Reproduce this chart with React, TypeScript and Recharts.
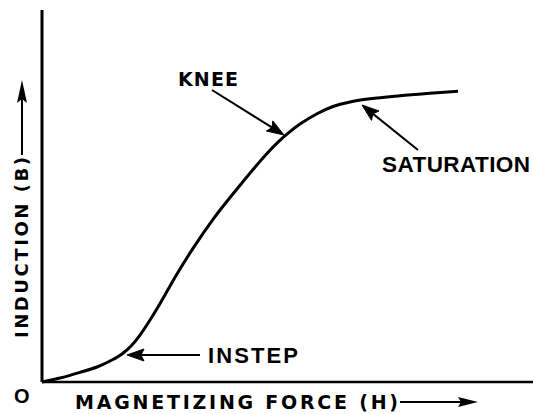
import React from 'react';
import { LineChart, Line, XAxis, YAxis, ReferenceLine, ReferenceDot } from 'recharts';

// Magnetizing force H (relative units) and induction B (relative units)
const hValues = [0, 3.67, 7.74, 11.2, 13.85, 16.29, 18.33, 19.96, 22.0, 23.63, 27.49, 30.75, 34.83, 39.71, 42.77, 45.82, 48.07, 50.51, 52.55, 56.01, 59.27, 62.73, 66.8, 72.91, 79.02, 84.73];
const bValues = [0, 1.08, 2.6, 4.03, 5.65, 7.53, 9.95, 12.63, 16.67, 20.16, 29.03, 35.91, 43.71, 51.88, 56.8, 61.45, 64.49, 67.31, 69.33, 72.12, 74.06, 75.27, 76.13, 76.96, 77.61, 78.15];

// Annotations
const annotationLabels = ['KNEE', 'SATURATION', 'INSTEP'];
const annotationText = [
  [27.7, 79.57],
  [69.25, 56.45],
  [33.81, 5.11],
];
const annotationArrows = [
  [34.62, 78.49, 49.29, 66.4],
  [76.58, 62.37, 65.17, 74.46],
  [32.18, 7.26, 17.31, 7.26],
];

const xTitle = 'MAGNETIZING FORCE (H)';
const yTitle = 'INDUCTION (B)';
const originLabel = 'O';

const data = hValues.map((h, i) => ({ h, b: bValues[i] }));

const DEJAVU = '"DejaVu Sans", sans-serif';
const LIB = '"Liberation Sans", Arial, sans-serif';
const labelStyle = [
  { font: DEJAVU, size: 19, width: 60 },
  { font: LIB, size: 22.5, width: 148 },
  { font: LIB, size: 22, width: 90 },
];

const arrowShape = (props: any) => {
  const { x1, y1, x2, y2 } = props;
  const dx = x2 - x1;
  const dy = y2 - y1;
  const len = Math.sqrt(dx * dx + dy * dy) || 1;
  const ux = dx / len;
  const uy = dy / len;
  const hl = 17;
  const hw = 6;
  const bx = x2 - ux * hl;
  const by = y2 - uy * hl;
  const pts = `${x2},${y2} ${bx - uy * hw},${by + ux * hw} ${bx + ux * 3},${by + uy * 3} ${bx + uy * hw},${by - ux * hw}`;
  return (
    <g>
      <line x1={x1} y1={y1} x2={bx + ux * 4} y2={by + uy * 4} stroke="#000" strokeWidth={2} />
      <polygon points={pts} fill="#000" stroke="#000" strokeWidth={1} strokeLinejoin="round" />
    </g>
  );
};

const XTitle = (props: any) => {
  const vb = props.viewBox || { x: 42, y: 382, width: 491 };
  const x0 = vb.x;
  const y0 = vb.y;
  return (
    <g>
      <text x={x0 - 28} y={y0 + 21} fontFamily={LIB} fontSize={20} fontWeight="bold" fill="#000">
        {originLabel}
      </text>
      <text
        x={x0 + 33}
        y={y0 + 27}
        fontFamily={DEJAVU}
        fontSize={19}
        fontWeight="bold"
        fill="#000"
        textLength={323}
        lengthAdjust="spacing"
      >
        {xTitle}
      </text>
      <line x1={x0 + 358} y1={y0 + 20} x2={x0 + 420} y2={y0 + 20} stroke="#000" strokeWidth={2} />
      <polygon
        points={`${x0 + 436},${y0 + 20} ${x0 + 416},${y0 + 15} ${x0 + 419},${y0 + 20} ${x0 + 416},${y0 + 25}`}
        fill="#000"
      />
    </g>
  );
};

const YTitle = (props: any) => {
  const vb = props.viewBox || { x: 0, y: 10, width: 42, height: 372 };
  const cx = vb.x + vb.width - 20;
  const top = vb.y;
  return (
    <g>
      <text
        x={0}
        y={0}
        transform={`translate(${cx + 6}, ${top + 328}) rotate(-90)`}
        fontFamily={DEJAVU}
        fontSize={18}
        fontWeight="bold"
        fill="#000"
        textLength={181}
        lengthAdjust="spacing"
      >
        {yTitle}
      </text>
      <line x1={cx} y1={top + 145} x2={cx} y2={top + 88} stroke="#000" strokeWidth={2} />
      <polygon
        points={`${cx},${top + 70} ${cx - 5},${top + 93} ${cx},${top + 89} ${cx + 5},${top + 93}`}
        fill="#000"
      />
    </g>
  );
};

export default function App() {
  return (
    <div style={{ position: 'absolute', left: 0, top: 0, background: '#fff' }}>
      <LineChart width={533} height={414} data={data} margin={{ top: 10, right: 0, bottom: 0, left: 0 }}>
        <XAxis
          dataKey="h"
          type="number"
          domain={[0, 100]}
          height={32}
          tick={false}
          tickLine={false}
          axisLine={{ stroke: '#000', strokeWidth: 2.5 }}
          label={<XTitle />}
        />
        <YAxis
          dataKey="b"
          type="number"
          domain={[0, 100]}
          width={42}
          tick={false}
          tickLine={false}
          axisLine={{ stroke: '#000', strokeWidth: 3 }}
          label={<YTitle />}
        />
        <Line
          type="monotone"
          dataKey="b"
          stroke="#000"
          strokeWidth={3}
          dot={false}
          activeDot={false}
          isAnimationActive={false}
        />
        {annotationArrows.map((a, i) => (
          <ReferenceLine
            key={`arr-${i}`}
            segment={[
              { x: a[0], y: a[1] },
              { x: a[2], y: a[3] },
            ]}
            ifOverflow="visible"
            shape={arrowShape}
          />
        ))}
        {annotationLabels.map((lab, i) => (
          <ReferenceDot
            key={`lab-${i}`}
            x={annotationText[i][0]}
            y={annotationText[i][1]}
            ifOverflow="visible"
            shape={(p: any) => (
              <text
                x={p.cx}
                y={p.cy}
                fontFamily={labelStyle[i].font}
                fontSize={labelStyle[i].size}
                fontWeight="bold"
                fill="#000"
                textLength={labelStyle[i].width}
                lengthAdjust="spacing"
              >
                {lab}
              </text>
            )}
          />
        ))}
      </LineChart>
    </div>
  );
}
